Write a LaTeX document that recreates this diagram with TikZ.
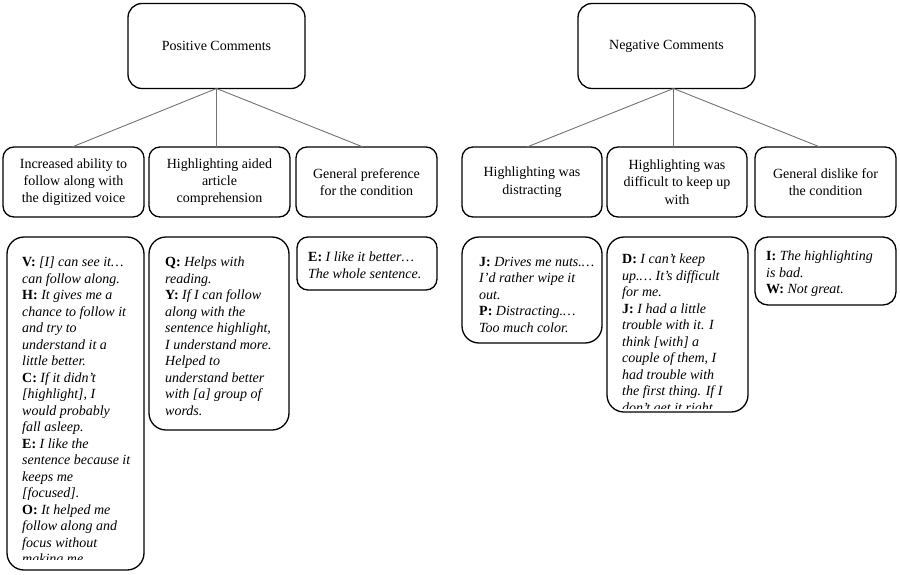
\documentclass[tikz,border=0pt]{standalone}
\usepackage{fontspec}
\setmainfont{Liberation Serif}
\usetikzlibrary{calc}
\tikzset{
  base/.style={draw=black, line width=1.3pt, inner sep=0pt, outer sep=0pt},
  topbox/.style={base, rounded corners=14pt, font=\fontsize{14}{17}\selectfont},
  catbox/.style={base, rounded corners=11pt, align=center, font=\fontsize{14}{17.3}\selectfont},
  quotebox/.style={base, rounded corners=17pt},
  quotetext/.style={anchor=north west, inner sep=0pt, align=left, font=\fontsize{14}{16.5}\selectfont\itshape},
  link/.style={draw=black!55, line width=0.9pt},
}
\newcommand{\who}[1]{\textbf{\upshape #1}}
\begin{document}
\begin{tikzpicture}[x=1pt,y=-1pt]
\useasboundingbox (0,0) rectangle (900,574);
% top
\node[topbox, minimum width=177pt, minimum height=85pt] (pos) at (216.5,46) {Positive Comments};
\node[topbox, minimum width=177pt, minimum height=85pt] (neg) at (666.5,46) {Negative Comments};
\coordinate (negb) at ($(neg.south)+(7,0)$);
% categories
\node[catbox, minimum width=141pt, minimum height=70pt] (c1) at (73.5,182) {Increased ability to\\follow along with\\the digitized voice};
\node[catbox, minimum width=141pt, minimum height=70pt] (c2) at (219.5,182) {Highlighting aided\\article\\comprehension};
\node[catbox, minimum width=141pt, minimum height=70pt] (c3) at (366.5,182) {General preference\\for the condition};
\node[catbox, minimum width=140pt, minimum height=70pt] (c4) at (532,182) {Highlighting was\\distracting};
\node[catbox, minimum width=140pt, minimum height=70pt] (c5) at (677,182) {Highlighting was\\difficult to keep up\\with};
\node[catbox, minimum width=141pt, minimum height=70pt] (c6) at (825.5,182) {General dislike for\\the condition};
% connectors
\draw[link] (pos.south) -- ($(c1.north)+(-1.5,0)$);
\draw[link] (pos.south) -- (pos.south |- c2.north);
\draw[link] (pos.south) -- ($(c3.north)+(-3.5,0)$);
\draw[link] (negb) -- ($(c4.north)+(-5,0)$);
\draw[link] (negb) -- (negb |- c5.north);
\draw[link] (negb) -- ($(c6.north)+(-5.5,0)$);
% quote boxes
\node[quotebox, minimum width=137pt, minimum height=333pt] (q1) at (75.5,403.5) {};
\node[quotebox, minimum width=140pt, minimum height=193pt] (q2) at (219,333.5) {};
\node[quotebox, minimum width=140pt, minimum height=53pt, rounded corners=11pt] (q3) at (367,263.5) {};
\node[quotebox, minimum width=140pt, minimum height=106pt] (q4) at (532,290) {};
\node[quotebox, minimum width=141pt, minimum height=175pt] (q5) at (677.5,324.5) {};
\node[quotebox, minimum width=141pt, minimum height=68pt, rounded corners=13pt] (q6) at (825.5,271) {};
\begin{scope}
\clip (q1.north west) rectangle ($(q1.south east)+(0,-11)$);
\node[quotetext] (t1) at ($(q1.north west)+(15,20)$) {\who{V:} {[}I{]} can see it…\\can follow along.\\\who{H:} It gives me a\\chance to follow it\\and try to\\understand it a\\little better.\\\who{C:} If it didn’t\\{[}highlight{]}, I\\would probably\\fall asleep.\\\who{E:} I like the\\sentence because it\\keeps me\\{[}focused{]}.\\\who{O:} It helped me\\follow along and\\focus without\\making me};
\end{scope}
\node[quotetext] (t2) at ($(q2.north west)+(16,20)$) {\who{Q:} Helps with\\reading.\\\who{Y:} If I can follow\\along with the\\sentence highlight,\\I understand more.\\Helped to\\understand better\\with {[}a{]} group of\\words.};
\node[quotetext] (t3) at ($(q3.north west)+(11,15)$) {\who{E:} I like it better…\\The whole sentence.};
\node[quotetext] (t4) at ($(q4.north west)+(17,20)$) {\who{J:} Drives me nuts.…\\I’d rather wipe it\\out.\\\who{P:} Distracting.…\\Too much color.};
\begin{scope}
\clip (q5.north west) rectangle ($(q5.south east)+(0,-4)$);
\node[quotetext] (t5) at ($(q5.north west)+(15,17)$) {\who{D:} I can’t keep\\up.… It’s difficult\\for me.\\\who{J:} I had a little\\trouble with it. I\\think {[}with{]} a\\couple of them, I\\had trouble with\\the first thing. If I\\don’t get it right};
\end{scope}
\node[quotetext] (t6) at ($(q6.north west)+(11,14)$) {\who{I:} The highlighting\\is bad.\\\who{W:} Not great.};
\end{tikzpicture}
\end{document}
